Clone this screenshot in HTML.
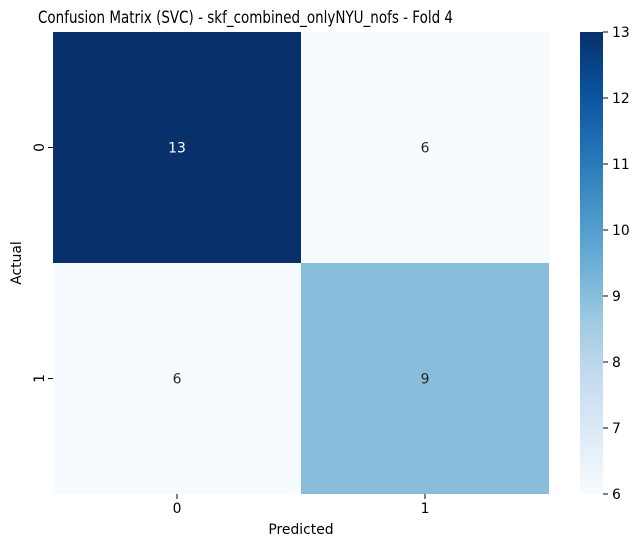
<!DOCTYPE html>
<html><head><meta charset="utf-8"><style>body{margin:0;background:#fff}svg{display:block;font-family:"DejaVu Sans","Liberation Sans",sans-serif}</style></head>
<body>
<svg id="c" width="640" height="547" viewBox="0 0 640 547" xmlns="http://www.w3.org/2000/svg">
<defs><linearGradient id="blues" x1="0" y1="1" x2="0" y2="0">
<stop offset="0" stop-color="#f7fbff"/><stop offset="0.125" stop-color="#deebf7"/><stop offset="0.25" stop-color="#c6dbef"/><stop offset="0.375" stop-color="#9ecae1"/><stop offset="0.5" stop-color="#6baed6"/><stop offset="0.625" stop-color="#4292c6"/><stop offset="0.75" stop-color="#2171b5"/><stop offset="0.875" stop-color="#08519c"/><stop offset="1" stop-color="#08306b"/></linearGradient></defs>
<text x="245.5" y="23" text-anchor="middle" font-size="17" textLength="415" lengthAdjust="spacingAndGlyphs">Confusion Matrix (SVC) - skf_combined_onlyNYU_nofs - Fold 4</text>
<g id="cells"></g>
<g id="cbar"></g>
<text x="301" y="534" text-anchor="middle" font-size="13.9">Predicted</text>
<text transform="translate(21,263) rotate(-90)" text-anchor="middle" font-size="13.9">Actual</text>
</svg>
<script>
const rowLabels=["0","1"];
const colLabels=["0","1"];
const values=[[13,6],[6,9]];
const cbarTicks=[6,7,8,9,10,11,12,13];
const ns="http://www.w3.org/2000/svg";
const L=53,T=32,W=496,H=462,vmin=6,vmax=13;
const stops=["#f7fbff","#deebf7","#c6dbef","#9ecae1","#6baed6","#4292c6","#2171b5","#08519c","#08306b"];
function hex(h){return [1,3,5].map(i=>parseInt(h.substr(i,2),16));}
function cmap(v){let t=(v-vmin)/(vmax-vmin);t=Math.max(0,Math.min(1,t))*8;const i=Math.min(7,Math.floor(t)),f=t-i;const a=hex(stops[i]),b=hex(stops[i+1]);return "rgb("+a.map((x,k)=>Math.round(x+(b[k]-x)*f)).join(",")+")";}
function el(tag,attrs,parent,txt){const e=document.createElementNS(ns,tag);for(const k in attrs)e.setAttribute(k,attrs[k]);if(txt!==undefined)e.textContent=txt;parent.appendChild(e);return e;}
const g=document.getElementById("cells"),svg=document.getElementById("c");
const cw=W/colLabels.length,ch=H/rowLabels.length;
values.forEach((row,r)=>row.forEach((v,c)=>{
 const rc=el("rect",{x:L+c*cw,y:T+r*ch,width:cw,height:ch,fill:cmap(v)},g);
 
 
 const t=el("text",{x:L+(c+.5)*cw,y:T+(r+.5)*ch+5,"text-anchor":"middle","font-size":"13.9",fill:(v-vmin)/(vmax-vmin)>0.5?"#fff":"#262626"},g,String(v));
 
 
}));
colLabels.forEach((lab,c)=>{const x=L+(c+.5)*cw;
 el("line",{x1:x,x2:x,y1:T+H,y2:T+H+5,stroke:"#000"},svg);
 const t=el("text",{x:x,y:T+H+19,"text-anchor":"middle","font-size":"13.9"},svg,lab);
 
 });
rowLabels.forEach((lab,r)=>{const y=T+(r+.5)*ch;
 el("line",{x1:L-5,x2:L,y1:y,y2:y,stroke:"#000"},svg);
 const t=el("text",{transform:"translate("+(L-9)+","+y+") rotate(-90)","text-anchor":"middle","font-size":"13.9"},svg,lab);
 
 });
const cb=document.getElementById("cbar");const CX=580,CW=23;
const bar=el("rect",{x:CX,y:T,width:CW,height:H,fill:"url(#blues)"},cb);


cbarTicks.forEach(v=>{const y=T+H-(v-vmin)/(vmax-vmin)*H;
 el("line",{x1:CX+CW,x2:CX+CW+5,y1:y,y2:y,stroke:"#000"},cb);
 const t=el("text",{x:CX+CW+9,y:y+5,"font-size":"13.9"},cb,String(v));
 
 });
</script>
</body></html>
